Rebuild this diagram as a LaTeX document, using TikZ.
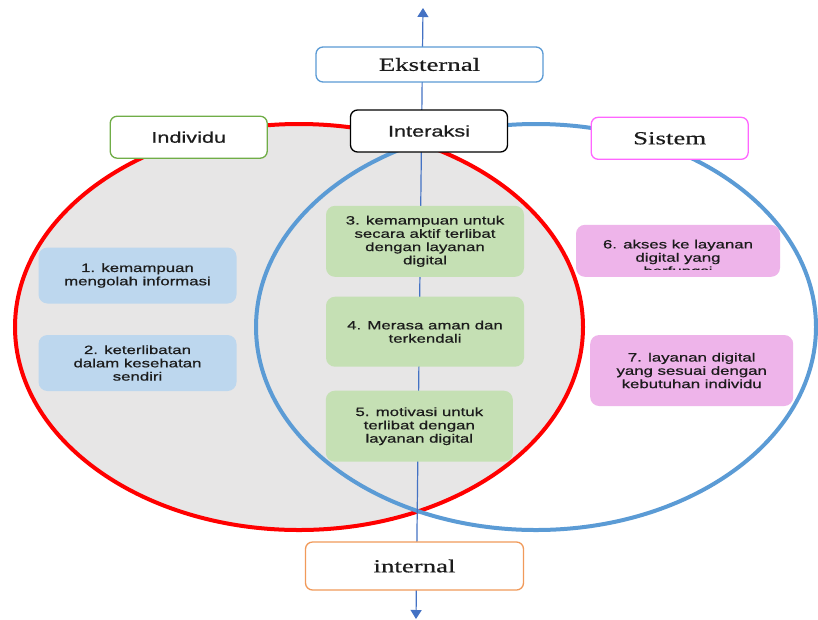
\documentclass[tikz,border=0pt]{standalone}
\usepackage{fontspec}
\setmainfont{Liberation Serif}[FakeStretch=1.45, FakeBold=0.5]
\newfontfamily\sansf{Liberation Sans}[FakeStretch=1.4, FakeBold=0.7]
\usetikzlibrary{arrows.meta}

\definecolor{redline}{HTML}{FF0000}
\definecolor{blueline}{HTML}{5B9BD5}
\definecolor{axisblue}{HTML}{4472C4}
\definecolor{grayfill}{HTML}{E7E6E6}
\definecolor{itemblue}{HTML}{BDD7EE}
\definecolor{itemgreen}{HTML}{C5E0B4}
\definecolor{itempink}{HTML}{EEB4EA}
\definecolor{edgegreen}{HTML}{70AD47}
\definecolor{edgepink}{HTML}{FF66FF}
\definecolor{edgeorange}{HTML}{F19A5A}
\definecolor{inktext}{HTML}{1C1C1C}

\tikzset{
  header/.style={draw, fill=white, rounded corners=7pt, line width=1.3pt,
    minimum width=157pt, minimum height=42pt, inner sep=0pt, text=inktext},
  serifhead/.style={header, font=\fontsize{18.5}{21}\selectfont},
  sanshead/.style={header, font=\sansf\fontsize{15.5}{18}\selectfont},
  itembox/.style={rounded corners=9pt, inner sep=0pt, align=center, text=inktext,
    font=\sansf\fontsize{12}{13.3}\selectfont},
  axisline/.style={axisblue, line width=1.2pt,
    {Triangle[width=11pt,length=9pt]}-{Triangle[width=11pt,length=9pt]}},
}

\begin{document}
\begin{tikzpicture}[x=1pt,y=-1pt]
\useasboundingbox (0,0) rectangle (818,619);
\fill[white] (0,0) rectangle (818,619);

% the two overlapping domains
\draw[redline, line width=4pt, fill=grayfill] (299,327) ellipse [x radius=284pt, y radius=203pt];
\draw[blueline, line width=4pt] (536,327) ellipse [x radius=280pt, y radius=203pt];

% vertical axis from internal to external
\coordinate (axtop) at (423,8);
\coordinate (axbot) at (416,619);
\draw[axisline] (axbot) -- (axtop);

% headers
\node[serifhead, draw=blueline, minimum width=227pt, minimum height=35pt] (ext) at (429.5,64.5) {Eksternal};
\node[sanshead, draw=black] (inter) at (429,131) {Interaksi};
\node[sanshead, draw=edgegreen] (indiv) at (188.7,137.2) {Individu};
\node[serifhead, draw=edgepink] (sist) at (669.7,138.3) {Sistem};
\node[serifhead, draw=edgeorange, minimum width=218pt, minimum height=48pt] (intl) at (414.5,566) {internal};

% individual factors
\node[itembox, fill=itemblue, minimum width=198pt, minimum height=56pt] (i1) at (137.5,275.5)
  {1. kemampuan\\mengolah informasi};
\node[itembox, fill=itemblue, minimum width=198pt, minimum height=56pt] (i2) at (137.5,363)
  {2. keterlibatan\\dalam kesehatan\\sendiri};

% interaction factors
\node[itembox, fill=itemgreen, minimum width=198pt, minimum height=71pt] (i3) at (425,241.3)
  {3. kemampuan untuk\\secara aktif terlibat\\dengan layanan\\digital};
\node[itembox, fill=itemgreen, minimum width=198pt, minimum height=70pt] (i4) at (425,331.7)
  {4. Merasa aman dan\\terkendali};
\node[itembox, fill=itemgreen, minimum width=187pt, minimum height=71pt] (i5) at (419.3,426.2)
  {5. motivasi untuk\\terlibat dengan\\layanan digital};

% system factors: the text frame of item 6 cuts off its last line
\node[itembox, fill=itempink, minimum width=204pt, minimum height=52pt] (i6) at (678,250.8) {};
\begin{scope}
  \clip (i6.north west) rectangle ([yshift=8pt]i6.south east);
  \node[itembox, anchor=north] (i6t) at (678,239.5) {6. akses ke layanan\\digital yang\\berfungsi};
\end{scope}
\node[itembox, fill=itempink, minimum width=203pt, minimum height=71pt] (i7) at (691.7,370.5)
  {7. layanan digital\\yang sesuai dengan\\kebutuhan individu};
\end{tikzpicture}
\end{document}
